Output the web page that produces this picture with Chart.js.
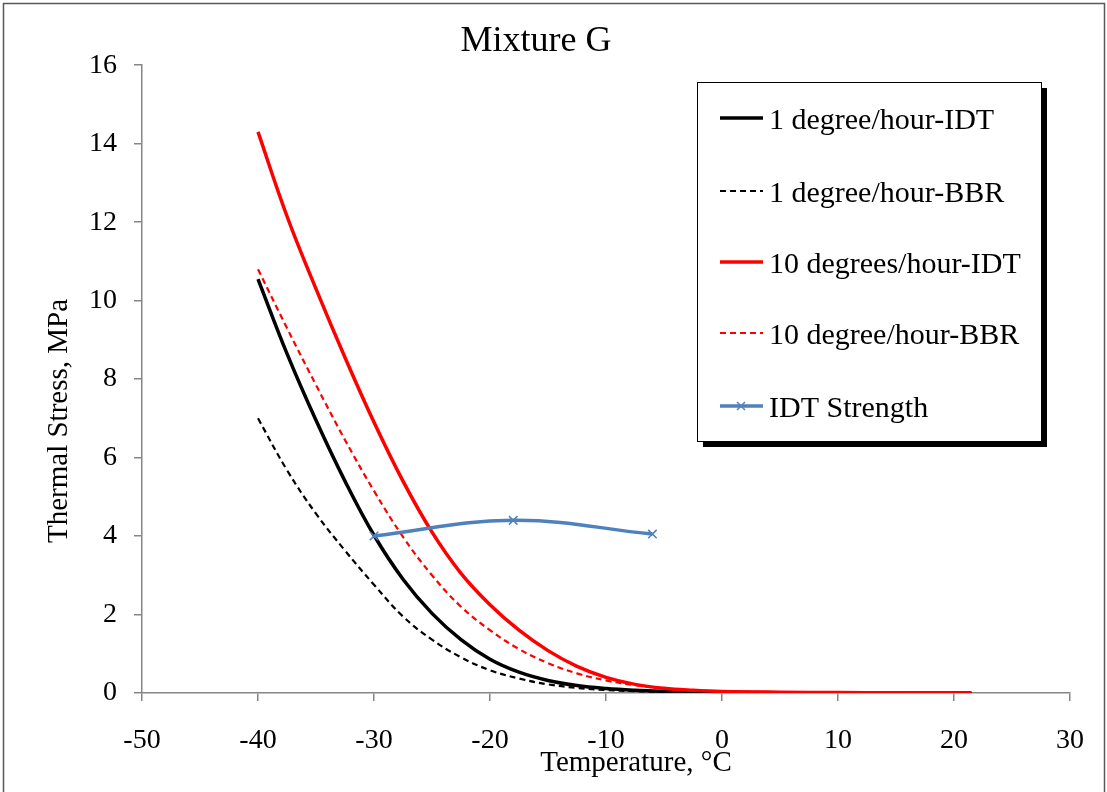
<!DOCTYPE html>
<html>
<head>
<meta charset="utf-8">
<title>Mixture G</title>
<script src="https://cdn.jsdelivr.net/npm/chart.js@4.4.0/dist/chart.umd.min.js"></script>
<style>
  html, body { margin: 0; padding: 0; background: #fff; }
  #wrap { width: 1107px; height: 792px; position: relative; }
</style>
</head>
<body>
<div id="wrap"><canvas id="myChart" width="1107" height="792"></canvas></div>
<script>
// temperatures (°C) for the thermal stress curves
var temps = [-40, -37.5, -35, -32.5, -30, -27.5, -25, -22.5, -20, -17.5, -15, -12.5, -10, -7.5, -5, -2.5, 0, 5, 10, 15, 21.5];
var idt1 = [10.55, 8.65, 6.95, 5.4, 4.02, 2.9, 2.03, 1.36, 0.86, 0.53, 0.32, 0.19, 0.115, 0.07, 0.043, 0.026, 0.016, 0.006, 0.002, 0.001, 0];
var bbr1 = [7.0, 5.68, 4.57, 3.63, 2.76, 1.95, 1.36, 0.91, 0.58, 0.37, 0.22, 0.13, 0.075, 0.045, 0.027, 0.016, 0.01, 0.004, 0.001, 0, 0];
var idt10 = [14.3, 12.15, 10.3, 8.55, 6.9, 5.4, 4.1, 3.05, 2.25, 1.6, 1.08, 0.68, 0.4, 0.22, 0.12, 0.07, 0.04, 0.02, 0.01, 0.005, 0];
var bbr10 = [10.8, 9.3, 7.85, 6.45, 5.15, 3.98, 3.0, 2.2, 1.6, 1.12, 0.76, 0.5, 0.32, 0.2, 0.12, 0.07, 0.04, 0.02, 0.01, 0.004, 0];

// IDT strength
var strengthTemps = [-30, -18, -6];
var strength = [4.0, 4.4, 4.05];

var labels = ['1 degree/hour-IDT', '1 degree/hour-BBR', '10 degrees/hour-IDT', '10 degree/hour-BBR', 'IDT Strength'];

var FONT = "'Liberation Serif', 'Times New Roman', serif";

function pts(xs, ys) {
    return xs.map(function (x, i) { return { x: x, y: ys[i] }; });
}

// outer frame
var framePlugin = {
    id: 'frame',
    beforeDraw: function (chart) {
        var c = chart.ctx;
        c.save();
        c.fillStyle = '#fff';
        c.fillRect(0, 0, chart.width, chart.height);
        c.strokeStyle = '#595959';
        c.lineWidth = 1.5;
        c.strokeRect(3.5, 3.5, 1101, 800);
        c.restore();
    }
};

// axis titles placed like the original
var axisTitles = {
    id: 'axisTitles',
    afterDraw: function (chart) {
        var c = chart.ctx;
        c.save();
        c.fillStyle = '#000';
        c.font = '29px ' + FONT;
        c.textAlign = 'center';
        c.textBaseline = 'alphabetic';
        c.fillText('Temperature, °C', 636, 771);
        c.translate(67, 421);
        c.rotate(-Math.PI / 2);
        c.fillText('Thermal Stress, MPa', 0, 0);
        c.restore();
    }
};

// boxed legend with drop shadow
var boxLegend = {
    id: 'boxLegend',
    afterDraw: function (chart) {
        var c = chart.ctx;
        var bx = 697, by = 82, bw = 344, bh = 359;
        c.save();
        c.fillStyle = '#000';
        c.fillRect(bx + 6, by + 6, bw, bh);
        c.fillStyle = '#fff';
        c.fillRect(bx, by, bw, bh);
        c.strokeStyle = '#000';
        c.lineWidth = 1;
        c.strokeRect(bx + 0.5, by + 0.5, bw, bh);

        var rows = [118, 191, 262, 333, 406];
        chart.data.datasets.forEach(function (ds, r) {
            var y = rows[r];
            c.beginPath();
            c.setLineDash(ds.borderDash || []);
            c.strokeStyle = ds.borderColor;
            c.lineWidth = ds.borderWidth;
            c.moveTo(720, y);
            c.lineTo(763, y);
            c.stroke();
            c.setLineDash([]);
            if (ds.pointStyle === 'crossRot') {
                c.lineWidth = 1.5;
                c.beginPath();
                c.moveTo(737, y - 4); c.lineTo(745, y + 4);
                c.moveTo(745, y - 4); c.lineTo(737, y + 4);
                c.stroke();
            }
            c.fillStyle = '#000';
            c.font = '30px ' + FONT;
            c.textAlign = 'left';
            c.textBaseline = 'alphabetic';
            c.fillText(ds.label, 769, y + 11);
        });
        c.restore();
    }
};

var ctx = document.getElementById('myChart').getContext('2d');
var myChart = new Chart(ctx, {
    type: 'scatter',
    data: {
        datasets: [{
            label: labels[0],
            data: pts(temps, idt1),
            borderColor: '#000000',
            backgroundColor: '#000000',
            borderWidth: 3.5,
            showLine: true,
            pointRadius: 0,
            tension: 0.4,
            order: 5
        }, {
            label: labels[1],
            data: pts(temps, bbr1),
            borderColor: '#000000',
            backgroundColor: '#000000',
            borderWidth: 2.2,
            borderDash: [6, 4],
            showLine: true,
            pointRadius: 0,
            tension: 0.4,
            order: 4
        }, {
            label: labels[2],
            data: pts(temps, idt10),
            borderColor: '#FF0000',
            backgroundColor: '#FF0000',
            borderWidth: 3.5,
            showLine: true,
            pointRadius: 0,
            tension: 0.4,
            order: 3
        }, {
            label: labels[3],
            data: pts(temps, bbr10),
            borderColor: '#FF0000',
            backgroundColor: '#FF0000',
            borderWidth: 2.2,
            borderDash: [6, 4],
            showLine: true,
            pointRadius: 0,
            tension: 0.4,
            order: 2
        }, {
            label: labels[4],
            data: pts(strengthTemps, strength),
            borderColor: '#4F81BD',
            backgroundColor: '#4F81BD',
            borderWidth: 3.5,
            showLine: true,
            tension: 0.4,
            pointStyle: 'crossRot',
            pointRadius: 6,
            pointBorderWidth: 1.5,
            order: 1
        }]
    },
    plugins: [framePlugin, axisTitles, boxLegend],
    options: {
        responsive: false,
        animation: false,
        layout: { padding: { left: 0, right: 35, top: 0, bottom: 0 } },
        plugins: {
            legend: { display: false },
            tooltip: { enabled: false },
            title: {
                display: true,
                text: 'Mixture G',
                color: '#000',
                font: { family: FONT, size: 36, weight: 'normal' },
                padding: { top: 20, bottom: 2 }
            }
        },
        scales: {
            x: {
                type: 'linear',
                min: -50,
                max: 30,
                afterFit: function (scale) { scale.height = 99; },
                ticks: {
                    stepSize: 10,
                    color: '#000',
                    padding: 23,
                    font: { family: FONT, size: 28 }
                },
                grid: { display: true, drawOnChartArea: false, drawTicks: true, tickLength: 8, color: '#868686', lineWidth: 1.5 },
                border: { color: '#868686', width: 1.5 }
            },
            y: {
                min: 0,
                max: 16,
                afterFit: function (scale) { scale.width = 142; },
                ticks: {
                    stepSize: 2,
                    color: '#000',
                    padding: 17,
                    font: { family: FONT, size: 28 }
                },
                grid: { display: true, drawOnChartArea: false, drawTicks: true, tickLength: 8, color: '#868686', lineWidth: 1.5 },
                border: { color: '#868686', width: 1.5 }
            }
        }
    }
});
</script>
</body>
</html>
